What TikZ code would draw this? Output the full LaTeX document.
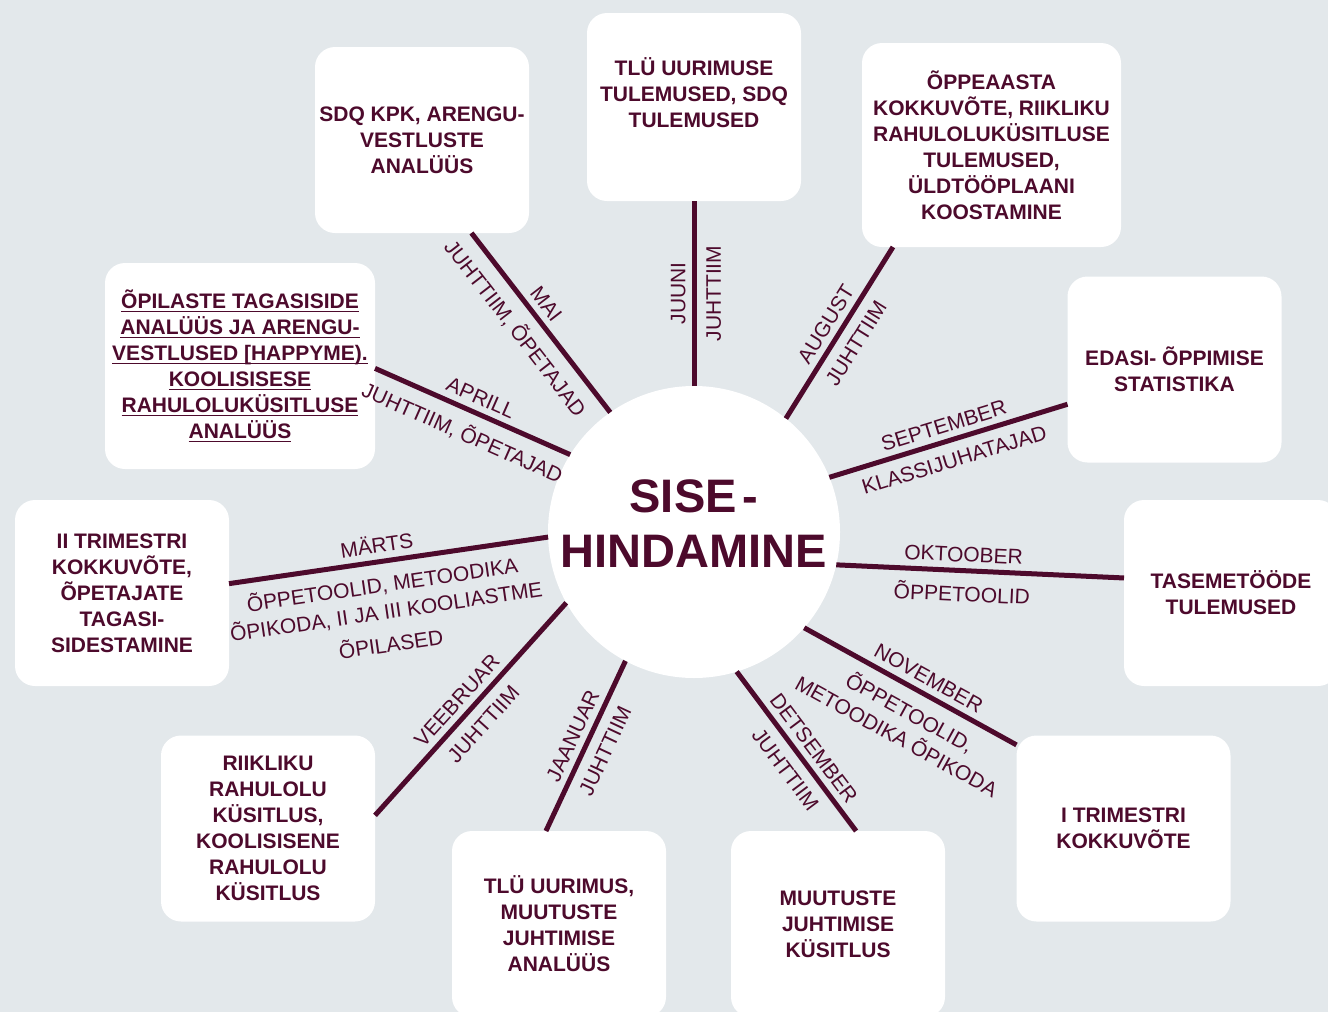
\documentclass[tikz,border=0pt]{standalone}
\usepackage{fontspec}
\setmainfont{Liberation Sans}
\usetikzlibrary{calc,positioning}
\definecolor{siseRed}{HTML}{4D0A2C}
\definecolor{siseBg}{HTML}{E3E8EB}
\newcommand{\uLine}[1]{\setbox0=\hbox{#1}\rlap{\vrule width\wd0 height -2.2pt depth 4pt}\box0}

\tikzset{
    box/.style={fill=white, rounded corners=20pt, align=center, inner sep=0pt, outer sep=0pt,
        minimum width=214pt, minimum height=186pt,
        text=siseRed, font=\fontsize{21}{26}\selectfont\bfseries},
    hub/.style={circle, fill=white, minimum size=292pt, inner sep=0pt, outer sep=0pt},
    hubtext/.style={align=center, text=siseRed, font=\fontsize{47}{55}\selectfont\bfseries},
    spoke/.style={draw=siseRed, line width=5pt},
    lbl/.style={sloped, inner sep=1pt, align=center, text=siseRed,
        font=\fontsize{21}{27}\selectfont}
}

\begin{document}
\begin{tikzpicture}[x=1pt,y=-1pt]

\fill[siseBg] (0,0) rectangle (1328,1012);
\useasboundingbox (0,0) rectangle (1328,1012);

\node[hub] (nHub) at (694,532) {};
\node[hubtext] (nHubText) at (694,524) {SISE\kern6pt-\\HINDAMINE};

\node[box] (nSdq) at (422,140) {SDQ KPK, ARENGU-\\VESTLUSTE\\ANALÜÜS};
\node[box, minimum height=188pt, text depth=29pt] (nTlu) at (694,107) {TLÜ UURIMUSE\\TULEMUSED, SDQ\\TULEMUSED};
\node[box, minimum width=259pt, minimum height=204pt] (nYear) at (991.5,145)
    {ÕPPEAASTA\\KOKKUVÕTE, RIIKLIKU\\RAHULOLUKÜSITLUSE\\TULEMUSED,\\ÜLDTÖÖPLAANI\\KOOSTAMINE};
\node[box] (nEdasi) at (1174.5,369.5) {EDASI- ÕPPIMISE\\STATISTIKA};
\node[box] (nTase) at (1231,593) {TASEMETÖÖDE\\TULEMUSED};
\node[box] (nTrimI) at (1123.5,828.5) {I TRIMESTRI\\KOKKUVÕTE};
\node[box] (nMuut) at (838,924) {MUUTUSTE\\JUHTIMISE\\KÜSITLUS};
\node[box] (nUur) at (559,924) {TLÜ UURIMUS,\\MUUTUSTE\\JUHTIMISE\\ANALÜÜS};
\node[box] (nRiik) at (268,828.5) {RIIKLIKU\\RAHULOLU\\KÜSITLUS,\\KOOLISISENE\\RAHULOLU\\KÜSITLUS};
\node[box] (nTrimII) at (122,593) {II TRIMESTRI\\KOKKUVÕTE,\\ÕPETAJATE\\TAGASI-\\SIDESTAMINE};
\node[box, minimum width=270pt, minimum height=206pt] (nOpil) at (240,366)
    {\uLine{ÕPILASTE TAGASISIDE}\\\uLine{ANALÜÜS JA ARENGU-}\\\uLine{VESTLUSED [HAPPYME).}\\
     \uLine{KOOLISISESE}\\\uLine{RAHULOLUKÜSITLUSE}\\\uLine{ANALÜÜS}};

\foreach \a/\b/\c/\p/\up/\dn in
{125.6/nSdq/-62.7/0.55/MAI/{JUHTTIIM, ÕPETAJAD},
    90/nTlu/-90/0.5/JUUNI/JUHTTIIM,
    51.1/nYear/-134/0.5/AUGUST/JUHTTIIM,
    22/nEdasi/-162.5/0.5/SEPTEMBER/KLASSIJUHATAJAD,
    -13.2/nTase/172/0.44/OKTOOBER/ÕPPETOOLID,
    -41.7/nTrimI/142/0.55/NOVEMBER/{ÕPPETOOLID,\\METOODIKA ÕPIKODA},
    -73.7/nMuut/79.6/0.54/DETSEMBER/JUHTTIIM,
    -118.3/nUur/98.6/0.48/JAANUAR/JUHTTIIM,
    -151.3/nRiik/7.2/0.51/VEEBRUAR/JUHTTIIM,
    -178.8/nTrimII/5.2/0.53/MÄRTS/{ÕPPETOOLID, METOODIKA\\ÕPIKODA, II JA III KOOLIASTME\\[6pt]ÕPILASED},
    148.8/nOpil/-1.7/0.49/APRILL/{JUHTTIIM, ÕPETAJAD}
}
{
    \draw[spoke] (nHub.\a) -- node[lbl, pos=\p, above=5pt] {\up} node[lbl, pos=\p, below=9pt] {\dn} (\b.\c);
};

\end{tikzpicture}
\end{document}
